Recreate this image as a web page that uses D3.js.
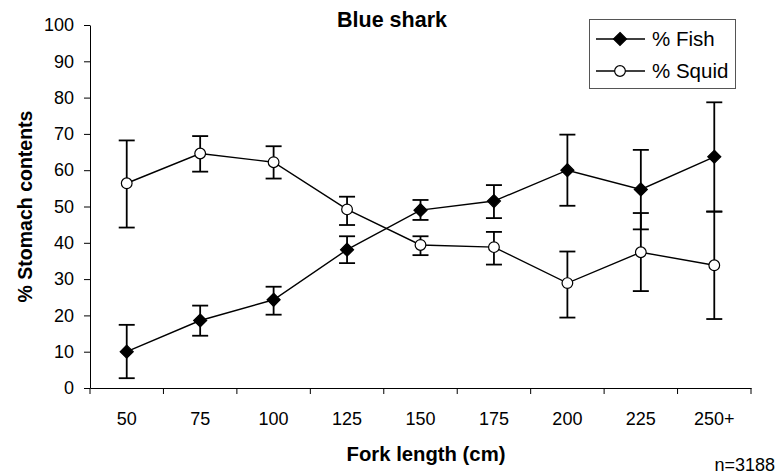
<!DOCTYPE html>
<html>
<head>
<meta charset="utf-8">
<script src="https://cdn.jsdelivr.net/npm/d3@7"></script>
<style>
  body { margin: 0; background: #fff; }
  text { font-family: "Liberation Sans", Arial, sans-serif; fill: #000; }
</style>
</head>
<body>
<div id="chart"></div>
<script>
// fork length classes (cm)
var categories = ["50", "75", "100", "125", "150", "175", "200", "225", "250+"];
var yTicks = [0, 10, 20, 30, 40, 50, 60, 70, 80, 90, 100];

// % fish in stomach, with error bar ends
var fishMean = [10.0, 18.6, 24.3, 38.1, 49.0, 51.5, 60.0, 54.7, 63.7];
var fishLow  = [2.7, 14.4, 20.2, 34.4, 46.3, 46.8, 50.2, 43.7, 48.6];
var fishHigh = [17.4, 22.7, 27.9, 41.8, 51.8, 55.9, 69.8, 65.6, 78.7];

// % squid in stomach, with error bar ends
var squidMean = [56.4, 64.6, 62.2, 49.2, 39.4, 38.8, 28.9, 37.4, 33.8];
var squidLow  = [44.2, 59.6, 57.7, 44.9, 36.6, 34.0, 19.4, 26.7, 19.0];
var squidHigh = [68.2, 69.4, 66.6, 52.7, 41.8, 43.0, 37.6, 48.2, 48.6];

var width = 777, height = 475;
var margin = {top: 25, right: 26, bottom: 87, left: 90};

var svg = d3.select("#chart").append("svg")
    .attr("width", width)
    .attr("height", height);

var x = d3.scaleBand().domain(categories).range([margin.left, width - margin.right]);
var y = d3.scaleLinear().domain([0, 100]).range([height - margin.bottom, margin.top]);
var cx = function(i) { return x(categories[i]) + x.bandwidth() / 2; };

// y axis
var yAxis = svg.append("g")
    .attr("transform", "translate(" + margin.left + ",0)")
    .call(d3.axisLeft(y).tickValues(yTicks).tickSize(6).tickSizeOuter(0).tickPadding(10));
yAxis.selectAll("text").style("font-size", "18px");

// x axis, labels centred in bands, ticks on band edges
var xAxis = svg.append("g")
    .attr("transform", "translate(0," + y(0) + ")")
    .call(d3.axisBottom(x).tickSize(0).tickSizeOuter(0).tickPadding(24));
xAxis.selectAll("text").style("font-size", "18px");
var edges = categories.map(function(c) { return x(c); }).concat([x.range()[1]]);
xAxis.selectAll(".edge").data(edges).enter().append("line")
    .attr("class", "edge")
    .attr("x1", function(d) { return d; })
    .attr("x2", function(d) { return d; })
    .attr("y1", 0).attr("y2", 6)
    .attr("stroke", "#000");
svg.selectAll(".domain, .tick line").attr("stroke", "#000");

var line = d3.line()
    .x(function(d, i) { return cx(i); })
    .y(function(d) { return y(d); });

function drawSeries(mean, low, high, marker) {
    var g = svg.append("g");
    // error bars
    mean.forEach(function(m, i) {
        var px = cx(i);
        g.append("line").attr("x1", px).attr("x2", px)
            .attr("y1", y(low[i])).attr("y2", y(high[i]))
            .attr("stroke", "#000").attr("stroke-width", 1.8);
        [low[i], high[i]].forEach(function(v) {
            g.append("line").attr("x1", px - 8).attr("x2", px + 8)
                .attr("y1", y(v)).attr("y2", y(v))
                .attr("stroke", "#000").attr("stroke-width", 1.8);
        });
    });
    g.append("path").datum(mean)
        .attr("d", line)
        .attr("fill", "none")
        .attr("stroke", "#000")
        .attr("stroke-width", 1.4);
    g.selectAll(".pt").data(mean).enter().append("path")
        .attr("class", "pt")
        .attr("transform", function(d, i) { return "translate(" + cx(i) + "," + y(d) + ")"; })
        .attr("d", marker.path)
        .attr("fill", marker.fill)
        .attr("stroke", "#000")
        .attr("stroke-width", 1.2);
}

var diamond = {path: "M0,-6.5L6.5,0L0,6.5L-6.5,0Z", fill: "#000"};
var circle = {path: d3.symbol().type(d3.symbolCircle).size(90)(), fill: "#fff"};

drawSeries(fishMean, fishLow, fishHigh, diamond);
drawSeries(squidMean, squidLow, squidHigh, circle);

// titles
svg.append("text")
    .attr("x", 392).attr("y", 26.5)
    .attr("text-anchor", "middle")
    .style("font-size", "21.5px").style("font-weight", "bold")
    .text("Blue shark");

svg.append("text")
    .attr("x", 426).attr("y", 461)
    .attr("text-anchor", "middle")
    .style("font-size", "20.3px").style("font-weight", "bold")
    .text("Fork length (cm)");

svg.append("text")
    .attr("transform", "translate(32,206.5) rotate(-90)")
    .attr("text-anchor", "middle")
    .style("font-size", "19.5px").style("font-weight", "bold")
    .text("% Stomach contents");

svg.append("text")
    .attr("x", 775).attr("y", 471)
    .attr("text-anchor", "end")
    .style("font-size", "18px")
    .text("n=3188");

// legend
var legend = svg.append("g").attr("transform", "translate(589,19)");
legend.append("rect")
    .attr("x", 0.5).attr("y", 0.5)
    .attr("width", 146).attr("height", 69)
    .attr("fill", "#fff").attr("stroke", "#555");
var items = [{label: "% Fish", marker: diamond}, {label: "% Squid", marker: circle}];
items.forEach(function(it, i) {
    var ly = 20 + i * 32;
    legend.append("line").attr("x1", 7).attr("x2", 56)
        .attr("y1", ly).attr("y2", ly)
        .attr("stroke", "#000").attr("stroke-width", 1.4);
    legend.append("path")
        .attr("transform", "translate(31," + ly + ")")
        .attr("d", it.marker.path)
        .attr("fill", it.marker.fill)
        .attr("stroke", "#000").attr("stroke-width", 1.2);
    legend.append("text")
        .attr("x", 63).attr("y", ly)
        .attr("dy", "0.35em")
        .style("font-size", "20.5px")
        .text(it.label);
});
</script>
</body>
</html>
